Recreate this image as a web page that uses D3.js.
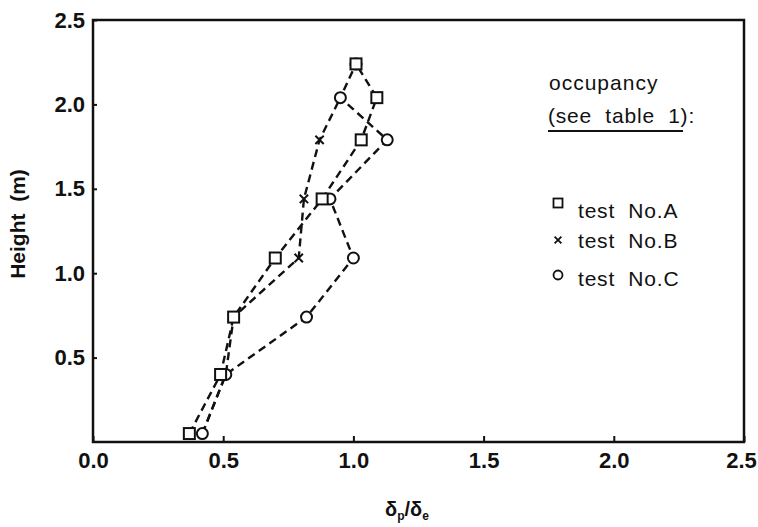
<!DOCTYPE html>
<html><head><meta charset="utf-8">
<script src="https://cdn.jsdelivr.net/npm/d3@7"></script>
<style>body{margin:0;background:#fff}text{font-family:"Liberation Sans",Arial,sans-serif;fill:#111;white-space:pre}</style>
</head><body><svg id="c" width="758" height="527"></svg>
<script>
const heights = [0.05, 0.40, 0.74, 1.09, 1.44, 1.79, 2.04, 2.24];
const testA = [0.37, 0.49, 0.54, 0.70, 0.88, 1.03, 1.09, 1.01];
const testB = [0.42, 0.51, 0.54, 0.79, 0.81, 0.87, 0.95];
const testC = [0.42, 0.51, 0.82, 1.00, 0.91, 1.13, 0.95, 1.01];
const xTicks = [0.0, 0.5, 1.0, 1.5, 2.0, 2.5];
const yTicks = [0.5, 1.0, 1.5, 2.0, 2.5];
const seriesNames = ["test  No.A", "test  No.B", "test  No.C"];
const symbols = ["square", "cross", "circle"];

const svg = d3.select("#c");
const x = d3.scaleLinear().domain([0, 2.5]).range([93, 744]);
const y = d3.scaleLinear().domain([0, 2.5]).range([442, 20]);

function marker(g, type, cx, cy, s, sw) {
  if (type === "square") g.append("rect").attr("x", cx - s/2).attr("y", cy - s/2).attr("width", s).attr("height", s)
    .attr("fill", "#fff").attr("stroke", "#111").attr("stroke-width", sw);
  else if (type === "circle") g.append("circle").attr("cx", cx).attr("cy", cy).attr("r", s/2)
    .attr("fill", "#fff").attr("stroke", "#111").attr("stroke-width", sw);
  else {
    const h = s * 0.38;
    g.append("path").attr("d", `M${cx-h},${cy-h}L${cx+h},${cy+h}M${cx-h},${cy+h}L${cx+h},${cy-h}`)
      .attr("stroke", "#111").attr("stroke-width", sw);
  }
}

const all = [testA, testB, testC];
const line = d3.line().x(d => x(d[0])).y(d => y(d[1]));
const plot = svg.append("g");
all.forEach(vals => {
  const pts = vals.map((v, i) => [v, heights[i]]);
  plot.append("path").attr("d", line(pts)).attr("fill", "none").attr("stroke", "#111")
    .attr("stroke-width", 2.4).attr("stroke-dasharray", "8,5");
});
[1, 2, 0].forEach(k => {
  all[k].forEach((v, i) => marker(plot, symbols[k], x(v), y(heights[i]), 11, 2));
});

// frame
svg.append("rect").attr("x", 93).attr("y", 20).attr("width", 651).attr("height", 422)
  .attr("fill", "none").attr("stroke", "#111").attr("stroke-width", 2.5);

// axes
const xAxis = d3.axisBottom(x).tickValues(xTicks).tickSizeInner(-6).tickSizeOuter(0).tickFormat(d3.format(".1f")).tickPadding(10);
const gx = svg.append("g").attr("transform", "translate(0,442)").call(xAxis);
gx.select(".domain").remove();
gx.selectAll("line").attr("stroke", "#111").attr("stroke-width", 2);
gx.selectAll("text").attr("font-size", 22).attr("font-weight", "bold").attr("fill", "#111").attr("font-family", "Liberation Sans, Arial, sans-serif")
  .attr("dx", d => d === 2.5 ? -3 : 0);

const yAxis = d3.axisLeft(y).tickValues(yTicks).tickSizeInner(-4).tickSizeOuter(0).tickFormat(d3.format(".1f")).tickPadding(8);
const gy = svg.append("g").attr("transform", "translate(93,0)").call(yAxis);
gy.select(".domain").remove();
gy.selectAll("line").attr("stroke", "#111").attr("stroke-width", 2);
gy.selectAll("text").attr("font-size", 22).attr("font-weight", "bold").attr("fill", "#111").attr("font-family", "Liberation Sans, Arial, sans-serif");

// axis titles
svg.append("text").attr("transform", "translate(25,224) rotate(-90)").attr("text-anchor", "middle")
  .attr("font-size", 21).attr("font-weight", "bold").text("Height  (m)");
const xl = svg.append("text").attr("x", 407).attr("y", 516).attr("text-anchor", "middle").attr("font-size", 20).attr("font-weight", "bold");
xl.append("tspan").text("δ");
xl.append("tspan").attr("font-size", 12).attr("dy", 4).text("p");
xl.append("tspan").attr("dy", -4).text("/δ");
xl.append("tspan").attr("font-size", 12).attr("dy", 4).text("e");

// legend
svg.append("text").attr("x", 549).attr("y", 90).attr("font-size", 21).attr("letter-spacing", 1).text("occupancy");
svg.append("text").attr("x", 548).attr("y", 123).attr("font-size", 21).attr("letter-spacing", 0.8).text("(see  table  1):");
svg.append("line").attr("x1", 548).attr("x2", 683).attr("y1", 131).attr("y2", 131).attr("stroke", "#111").attr("stroke-width", 2);
const legMarkY = [203, 240, 275];
const legTextY = [218, 248, 286];
seriesNames.forEach((n, k) => {
  marker(svg, symbols[k], 558, legMarkY[k], 9, 1.8);
  svg.append("text").attr("x", 578).attr("y", legTextY[k]).attr("font-size", 21).attr("letter-spacing", 0.8).text(n);
});
</script></body></html>
